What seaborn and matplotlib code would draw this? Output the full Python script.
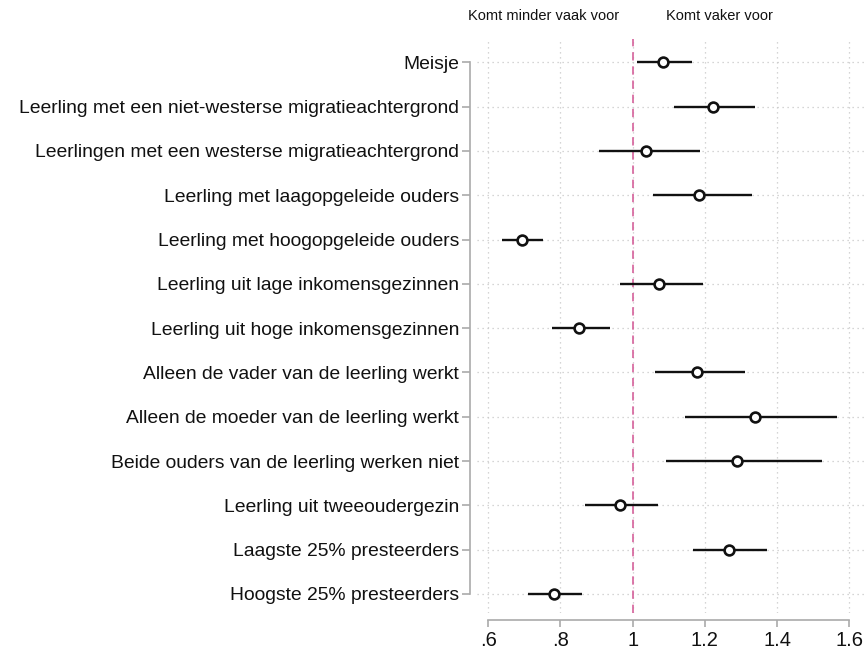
import numpy as np
import matplotlib
matplotlib.use("Agg")
import matplotlib.pyplot as plt
import seaborn as sns
import pandas as pd

categories = [
    "Meisje",
    "Leerling met een niet-westerse migratieachtergrond",
    "Leerlingen met een westerse migratieachtergrond",
    "Leerling met laagopgeleide ouders",
    "Leerling met hoogopgeleide ouders",
    "Leerling uit lage inkomensgezinnen",
    "Leerling uit hoge inkomensgezinnen",
    "Alleen de vader van de leerling werkt",
    "Alleen de moeder van de leerling werkt",
    "Beide ouders van de leerling werken niet",
    "Leerling uit tweeoudergezin",
    "Laagste 25% presteerders",
    "Hoogste 25% presteerders",
]
estimate = [1.085, 1.222, 1.037, 1.185, 0.693, 1.074, 0.852, 1.179, 1.338, 1.289, 0.965, 1.266, 0.782]
ci_low = [1.011, 1.114, 0.906, 1.056, 0.639, 0.965, 0.776, 1.062, 1.146, 1.091, 0.868, 1.167, 0.711]
ci_high = [1.163, 1.338, 1.187, 1.330, 0.753, 1.196, 0.936, 1.312, 1.565, 1.525, 1.070, 1.371, 0.859]
xticks = [0.6, 0.8, 1.0, 1.2, 1.4, 1.6]
xtick_labels = [".6", ".8", "1", "1.2", "1.4", "1.6"]

df = pd.DataFrame({"cat": categories, "est": estimate, "lo": ci_low, "hi": ci_high})
df["pos"] = np.arange(len(df))

sns.set_theme(style="white")
plt.rcParams["font.family"] = ["Liberation Sans", "DejaVu Sans"]

W, H = 864, 656
fig = plt.figure(figsize=(W / 100, H / 100), dpi=100)
left, right, top, bottom = 477, 866, 39, 613
ax = fig.add_axes([left / W, 1 - bottom / H, (right - left) / W, (bottom - top) / H])

grid_kw = dict(color="#c8c8c8", linestyle=(0, (1, 3)), linewidth=0.9, zorder=0)
for xt in xticks:
    ax.axvline(xt, **grid_kw)
for p in df["pos"]:
    ax.axhline(p, **grid_kw)

ax.axvline(1.0, color="#d6619b", linestyle=(0, (5, 3.5)), linewidth=1.2, zorder=1)

ax.hlines(df["pos"], df["lo"], df["hi"], color="#111111", linewidth=1.7, zorder=2)
sns.scatterplot(data=df, x="est", y="pos", ax=ax, marker="o", s=50,
                facecolor="white", edgecolor="#111111", linewidth=1.9, zorder=3, legend=False)

ax.set_xlim(0.569, 1.646)
ax.set_ylim(12.43, -0.526)
ax.set_xticks(xticks)
ax.set_xticklabels(xtick_labels)
ax.set_yticks(df["pos"])
ax.set_yticklabels(df["cat"])
ax.set_xlabel("")
ax.set_ylabel("")

for s in ["top", "right"]:
    ax.spines[s].set_visible(False)
for s in ["left", "bottom"]:
    ax.spines[s].set_color("#aaaaaa")
    ax.spines[s].set_linewidth(1.2)
ax.spines["left"].set_position(("outward", 5))
ax.spines["bottom"].set_position(("outward", 5))
ax.spines["left"].set_bounds(0, len(df) - 1)
ax.spines["bottom"].set_bounds(0.6, 1.6)
ax.tick_params(axis="y", length=6, width=1.2, color="#aaaaaa", pad=2, left=True,
               labelsize=13.9, labelcolor="#111111")
ax.tick_params(axis="x", length=5, width=1.2, color="#aaaaaa", pad=3, bottom=True,
               labelsize=14.5, labelcolor="#111111")

fig.text(619 / W, 1 - 16 / H, "Komt minder vaak voor", ha="right", va="center", fontsize=10.5, color="#111111")
fig.text(666 / W, 1 - 16 / H, "Komt vaker voor", ha="left", va="center", fontsize=10.5, color="#111111")

fig.savefig("out.png", dpi=100)
